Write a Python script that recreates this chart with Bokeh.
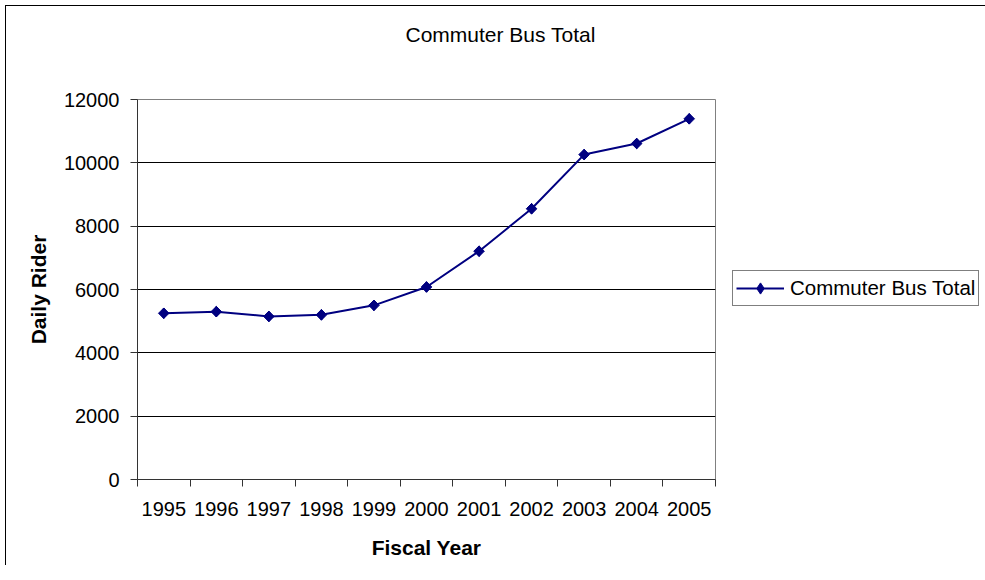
import math
from bokeh.plotting import figure
from bokeh.models import Range1d, FixedTicker, Legend, LegendItem, Title
from bokeh.embed import file_html
from bokeh.resources import INLINE

# ---- data ----
years = [1995, 1996, 1997, 1998, 1999, 2000, 2001, 2002, 2003, 2004, 2005]
riders = [5250, 5300, 5150, 5200, 5500, 6080, 7210, 8550, 10260, 10610, 11390]
y_ticks = [0, 2000, 4000, 6000, 8000, 10000, 12000]
chart_title = "Commuter Bus Total"
x_title = "Fiscal Year"
y_title = "Daily Rider"
series_name = "Commuter Bus Total"

FONT = "Liberation Sans"
NAVY = "#000080"

p = figure(frame_width=578, frame_height=380,
           output_backend="svg", toolbar_location=None,
           x_range=Range1d(years[0] - 0.5, years[-1] + 0.5),
           y_range=Range1d(y_ticks[0], y_ticks[-1]),
           min_border_left=131, min_border_top=93,
           min_border_right=258, min_border_bottom=86)

p.styles = {"margin-left": "5px", "margin-top": "5px",
            "border-left": "1px solid black", "border-top": "1px solid black"}

p.background_fill_color = "white"
p.border_fill_color = "white"
p.outline_line_color = "#808080"
p.outline_line_width = 1

p.xgrid.visible = False
p.ygrid.grid_line_color = "black"
p.ygrid.grid_line_width = 1

# x axis: labels at category centres, tick marks between categories
xa = p.xaxis[0]
xa.ticker = FixedTicker(ticks=years,
                        minor_ticks=[y - 0.5 for y in years] + [years[-1] + 0.5])
xa.major_tick_line_color = None
xa.major_tick_out = 7
xa.major_tick_in = 0
xa.minor_tick_out = 7
xa.minor_tick_in = 0
xa.minor_tick_line_color = "#333333"
xa.axis_line_color = "#333333"
xa.major_label_standoff = 15
xa.major_label_text_font = FONT
xa.major_label_text_font_size = "20px"
xa.major_label_text_color = "black"
xa.axis_label = x_title
xa.axis_label_text_font = FONT
xa.axis_label_text_font_size = "21px"
xa.axis_label_text_font_style = "bold"
xa.axis_label_text_color = "black"
xa.axis_label_standoff = 17

ya = p.yaxis[0]
ya.ticker = FixedTicker(ticks=y_ticks)
ya.minor_tick_line_color = None
ya.major_tick_out = 7
ya.major_tick_in = 0
ya.major_tick_line_color = "#333333"
ya.axis_line_color = "#333333"
ya.major_label_standoff = 11
ya.major_label_text_font = FONT
ya.major_label_text_font_size = "20px"
ya.major_label_text_color = "black"
ya.axis_label = y_title
ya.axis_label_text_font = FONT
ya.axis_label_text_font_size = "21px"
ya.axis_label_text_font_style = "bold"
ya.axis_label_text_color = "black"
ya.axis_label_standoff = 11

line_r = p.line(years, riders, line_color=NAVY, line_width=2)
# diamond key markers (used for the legend swatch), covered by the point markers
key_r = p.scatter(years, riders, marker="diamond", size=10.5,
                  fill_color=NAVY, line_color=NAVY)
pts_r = p.scatter(years, riders, marker="square", angle=math.pi / 4, size=7.5,
                  fill_color=NAVY, line_color=NAVY)

# spacer first (closest to the frame), then the chart title above it
p.add_layout(Title(text=" ", text_font_size="10px", standoff=41), "above")
p.add_layout(Title(text=chart_title, text_font=FONT, text_font_size="21px",
                   text_font_style="normal", text_color="black",
                   align="left", offset=268, standoff=0,
                   vertical_align="bottom"), "above")

legend = Legend(items=[LegendItem(label=series_name, renderers=[line_r, key_r])],
                location=(17, 173), orientation="vertical",
                border_line_color="black", border_line_width=1,
                background_fill_color="white", background_fill_alpha=1.0,
                padding=3, margin=0, spacing=0,
                glyph_width=48, glyph_height=28, label_standoff=6,
                label_text_font=FONT, label_text_font_size="20.5px",
                label_text_color="black")
p.add_layout(legend, "right")

open("out.html", "w").write(file_html(p, INLINE))
